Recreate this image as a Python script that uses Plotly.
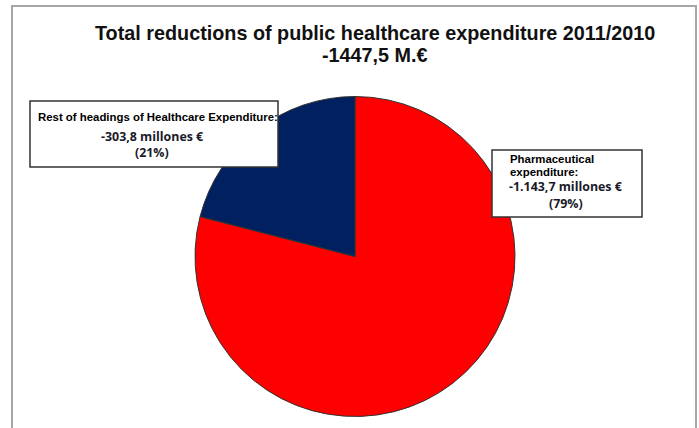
import plotly.graph_objects as go

W, H = 699, 428

# ---- data ----
categories = ["Pharmaceutical expenditure", "Rest of headings of Healthcare Expenditure"]
values = [1143.7, 303.8]
colors = ["#FF0000", "#002060"]
title_lines = ["Total reductions of public healthcare expenditure 2011/2010", "-1447,5 M.€"]
label_heads = [["Pharmaceutical", "expenditure:"], ["Rest of headings of Healthcare Expenditure:"]]
label_amounts = ["-1.143,7 millones €", "-303,8 millones €"]
label_pcts = ["(79%)", "(21%)"]


def px(x):
    return x / W


def py(y):
    return 1 - y / H


fig = go.Figure(go.Pie(
    labels=categories,
    values=values,
    marker=dict(colors=colors, line=dict(color="#333333", width=1)),
    sort=False,
    direction="clockwise",
    rotation=0,
    textinfo="none",
    hoverinfo="label+value+percent",
    domain=dict(x=[px(195), px(515)], y=[py(417), py(96)]),
    showlegend=False,
))

shapes = [
    # outer frame
    dict(type="rect", xref="paper", yref="paper", x0=px(12), x1=px(696), y0=py(440), y1=py(6),
         line=dict(color="#A6A6A6", width=2), fillcolor="rgba(0,0,0,0)", layer="below"),
    # label box: rest
    dict(type="rect", xref="paper", yref="paper", x0=px(30), x1=px(278), y0=py(167), y1=py(101),
         line=dict(color="#333333", width=1.5), fillcolor="white", layer="above"),
    # label box: pharma
    dict(type="rect", xref="paper", yref="paper", x0=px(492), x1=px(642), y0=py(217), y1=py(150),
         line=dict(color="#333333", width=1.5), fillcolor="white", layer="above"),
]

HEAD = dict(family="Liberation Sans, Arial", size=11.4, color="black", weight=700)
AMT = dict(family="Open Sans, Lato", size=12.4, color="#1a1a2a", weight=700)
TTL = dict(family="Liberation Sans, Arial", size=19.8, color="#111111", weight=700)


def add(x, y, text, font, anchor="center"):
    return dict(x=px(x), y=py(y), xref="paper", yref="paper", showarrow=False,
                text=text, xanchor=anchor, yanchor="middle", font=font)


ann = [
    add(375, 33, title_lines[0], TTL),
    add(375, 55, title_lines[1], TTL),
    # rest box text
    add(158, 117, label_heads[1][0], HEAD),
    add(152, 136, label_amounts[1], AMT),
    add(152, 153, label_pcts[1], AMT),
    # pharma box text
    add(508, 159, label_heads[0][0], HEAD, "left"),
    add(508, 172, label_heads[0][1], HEAD, "left"),
    add(507, 186, label_amounts[0], AMT, "left"),
    add(566, 203, label_pcts[0], AMT),
]

fig.update_layout(
    width=W, height=H,
    margin=dict(l=0, r=0, t=0, b=0),
    paper_bgcolor="white",
    plot_bgcolor="white",
    shapes=shapes,
    annotations=ann,
)

fig.write_html("out.html", config={"displayModeBar": False},
               post_script="document.body.style.margin='0';document.body.style.overflow='hidden';")
